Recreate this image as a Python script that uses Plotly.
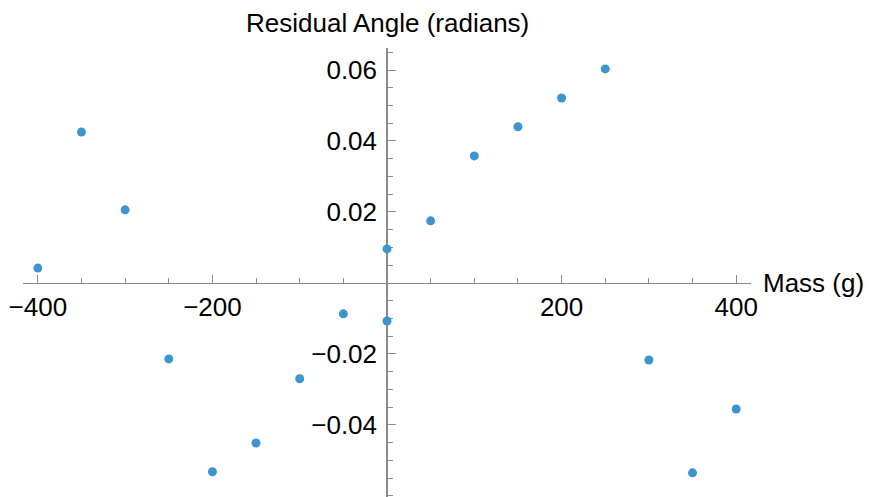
import plotly.graph_objects as go
import numpy as np

mass = [-400, -350, -300, -250, -200, -150, -100, -50, 0, 0, 50, 100, 150, 200, 250, 300, 350, 400]
residual = [0.0042, 0.0425, 0.0206, -0.0214, -0.0532, -0.0451, -0.0270, -0.0087, -0.0107, 0.0096,
            0.0175, 0.0358, 0.0440, 0.0521, 0.0603, -0.0217, -0.0535, -0.0355]

x_ticks = [-400, -200, 200, 400]
x_ticklabels = ["\u2212400", "\u2212200", "200", "400"]
y_ticks = [-0.04, -0.02, 0.02, 0.04, 0.06]
y_ticklabels = ["\u22120.04", "\u22120.02", "0.02", "0.04", "0.06"]

x_range = [-417, 417]
y_range = [-0.0603, 0.0662]

FONT = "Liberation Sans, Arial, sans-serif"
FS = 26
AXC = "#8a8a8a"

x_minor = [v for v in np.arange(-400, 401, 50).tolist() if v not in x_ticks and v != 0]
y_minor = [round(v, 4) for v in np.arange(-0.06, 0.0651, 0.005).tolist()]
y_minor = [v for v in y_minor if all(abs(v - t) > 1e-6 for t in y_ticks) and abs(v) > 1e-6]

fig = go.Figure()
fig.add_trace(go.Scatter(x=mass, y=residual, mode="markers",
                         marker=dict(size=9, color="#3d95d0"),
                         cliponaxis=False))

xpos = (0 - y_range[0]) / (y_range[1] - y_range[0])
ypos = (0 - x_range[0]) / (x_range[1] - x_range[0])

fig.update_layout(
    width=871, height=497,
    margin=dict(l=23, r=120, t=48, b=0, autoexpand=False),
    paper_bgcolor="white", plot_bgcolor="white",
    showlegend=False,
    font=dict(family=FONT, size=FS, color="black"),
    xaxis=dict(range=x_range, anchor="free", position=xpos, automargin=False,
               showgrid=False, zeroline=False,
               showline=True, linecolor=AXC, linewidth=1,
               tickmode="array", tickvals=x_ticks, ticktext=x_ticklabels,
               ticks="inside", ticklen=8, tickcolor=AXC, tickwidth=1,
               ticklabelstandoff=1,
               minor=dict(tickmode="array", tickvals=x_minor, ticks="inside",
                          ticklen=5, tickcolor=AXC, tickwidth=1, showgrid=False),
               tickfont=dict(family=FONT, size=FS, color="black"),
               layer="below traces"),
    yaxis=dict(range=y_range, anchor="free", position=ypos, automargin=False,
               showgrid=False, zeroline=False,
               showline=True, linecolor=AXC, linewidth=1.5,
               tickmode="array", tickvals=y_ticks, ticktext=y_ticklabels,
               ticks="inside", ticklen=8, tickcolor=AXC, tickwidth=1,
               ticklabelstandoff=4,
               minor=dict(tickmode="array", tickvals=y_minor, ticks="inside",
                          ticklen=5, tickcolor=AXC, tickwidth=1, showgrid=False),
               tickfont=dict(family=FONT, size=FS, color="black"),
               layer="below traces"),
    annotations=[
        dict(text="Mass (g)", xref="paper", yref="paper", x=1.0, y=xpos,
             xanchor="left", yanchor="middle", xshift=10, showarrow=False,
             font=dict(family=FONT, size=FS, color="black")),
        dict(text="Residual Angle (radians)", xref="paper", yref="paper", x=ypos, y=1.0,
             xanchor="center", yanchor="bottom", yshift=8, showarrow=False,
             font=dict(family=FONT, size=FS, color="black")),
    ],
)

fig.write_html("out.html", config={"displayModeBar": False},
               post_script="document.body.style.margin='0';document.body.style.overflow='hidden';")
